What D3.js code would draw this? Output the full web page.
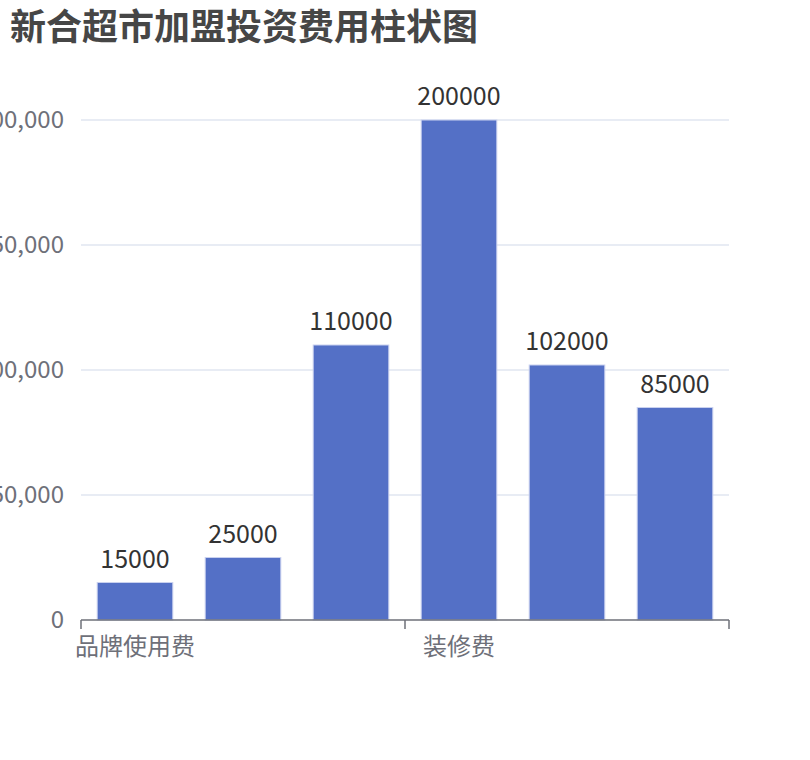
<!DOCTYPE html>
<html><head><meta charset="utf-8">
<script src="https://cdn.jsdelivr.net/npm/d3@7/dist/d3.min.js"></script>
<style>
html,body{margin:0;padding:0;background:#fff;}
svg{display:block;font-family:"Noto Sans CJK SC","Noto Sans",sans-serif;}
</style></head>
<body>
<script>
const title = "新合超市加盟投资费用柱状图";
const categories = ["品牌使用费","加盟费","保证金","装修费","设备费","首批货款"];
const values = [15000, 25000, 110000, 200000, 102000, 85000];
const yTicks = [0, 50000, 100000, 150000, 200000];

const W = 810, H = 760;
const mLeft = 81, mRight = 729, mTop = 120, mBottom = 620;

const svg = d3.select("body").append("svg").attr("width", W).attr("height", H);

svg.append("text").attr("x", 10).attr("y", 40)
  .attr("font-size", 36).attr("font-weight", "bold").attr("fill", "#464646")
  .text(title);

const x = d3.scaleBand().domain(categories).range([mLeft, mRight]).paddingInner(0.3).paddingOuter(0.15);
const xb = d3.scaleBand().domain(categories).range([mLeft, mRight]);
const y = d3.scaleLinear().domain([0, 200000]).range([mBottom, mTop]);

// grid lines
svg.append("g").selectAll("line").data(yTicks.filter(d => d > 0)).join("line")
  .attr("x1", mLeft).attr("x2", mRight)
  .attr("y1", d => y(d)).attr("y2", d => y(d))
  .attr("stroke", "#e0e6f1").attr("stroke-width", 1.5);

// y axis labels (axis line hidden)
const yAxis = d3.axisLeft(y).tickValues(yTicks).tickSize(0).tickPadding(17)
  .tickFormat(d3.format(","));
const gy = svg.append("g").attr("transform", `translate(${mLeft},0)`).call(yAxis);
gy.select(".domain").remove();
gy.selectAll("text").attr("font-size", 24).attr("fill", "#6e7079")
  .attr("font-family", "'Noto Sans CJK SC','Noto Sans',sans-serif");

// bars
svg.append("g").selectAll("rect").data(values).join("rect")
  .attr("x", (d, i) => x(categories[i]))
  .attr("width", x.bandwidth())
  .attr("y", d => y(d))
  .attr("height", d => mBottom - y(d))
  .attr("fill", "#5470c6")
  .attr("stroke", "#c9d1ef").attr("stroke-width", 1);

// value labels
svg.append("g").selectAll("text").data(values).join("text")
  .attr("x", (d, i) => x(categories[i]) + x.bandwidth() / 2)
  .attr("y", d => y(d) - 15)
  .attr("text-anchor", "middle")
  .attr("font-size", 25).attr("fill", "#333")
  .text(d => d);

// x axis
const shown = [0, 3];
const gx = svg.append("g").attr("transform", `translate(0,${mBottom})`);
gx.append("line").attr("x1", mLeft).attr("x2", mRight).attr("stroke", "#6e7079").attr("stroke-width", 1.5);
const tickIdx = [0, 3, 6];
gx.selectAll("line.tk").data(tickIdx).join("line").attr("class", "tk")
  .attr("x1", i => i < categories.length ? xb(categories[i]) : mRight)
  .attr("x2", i => i < categories.length ? xb(categories[i]) : mRight)
  .attr("y1", 0).attr("y2", 9)
  .attr("stroke", "#6e7079").attr("stroke-width", 1.5);
gx.selectAll("text").data(shown).join("text")
  .attr("x", i => x(categories[i]) + x.bandwidth() / 2)
  .attr("y", 35)
  .attr("text-anchor", "middle")
  .attr("font-size", 24).attr("fill", "#6e7079")
  .text(i => categories[i]);
</script>
</body></html>
